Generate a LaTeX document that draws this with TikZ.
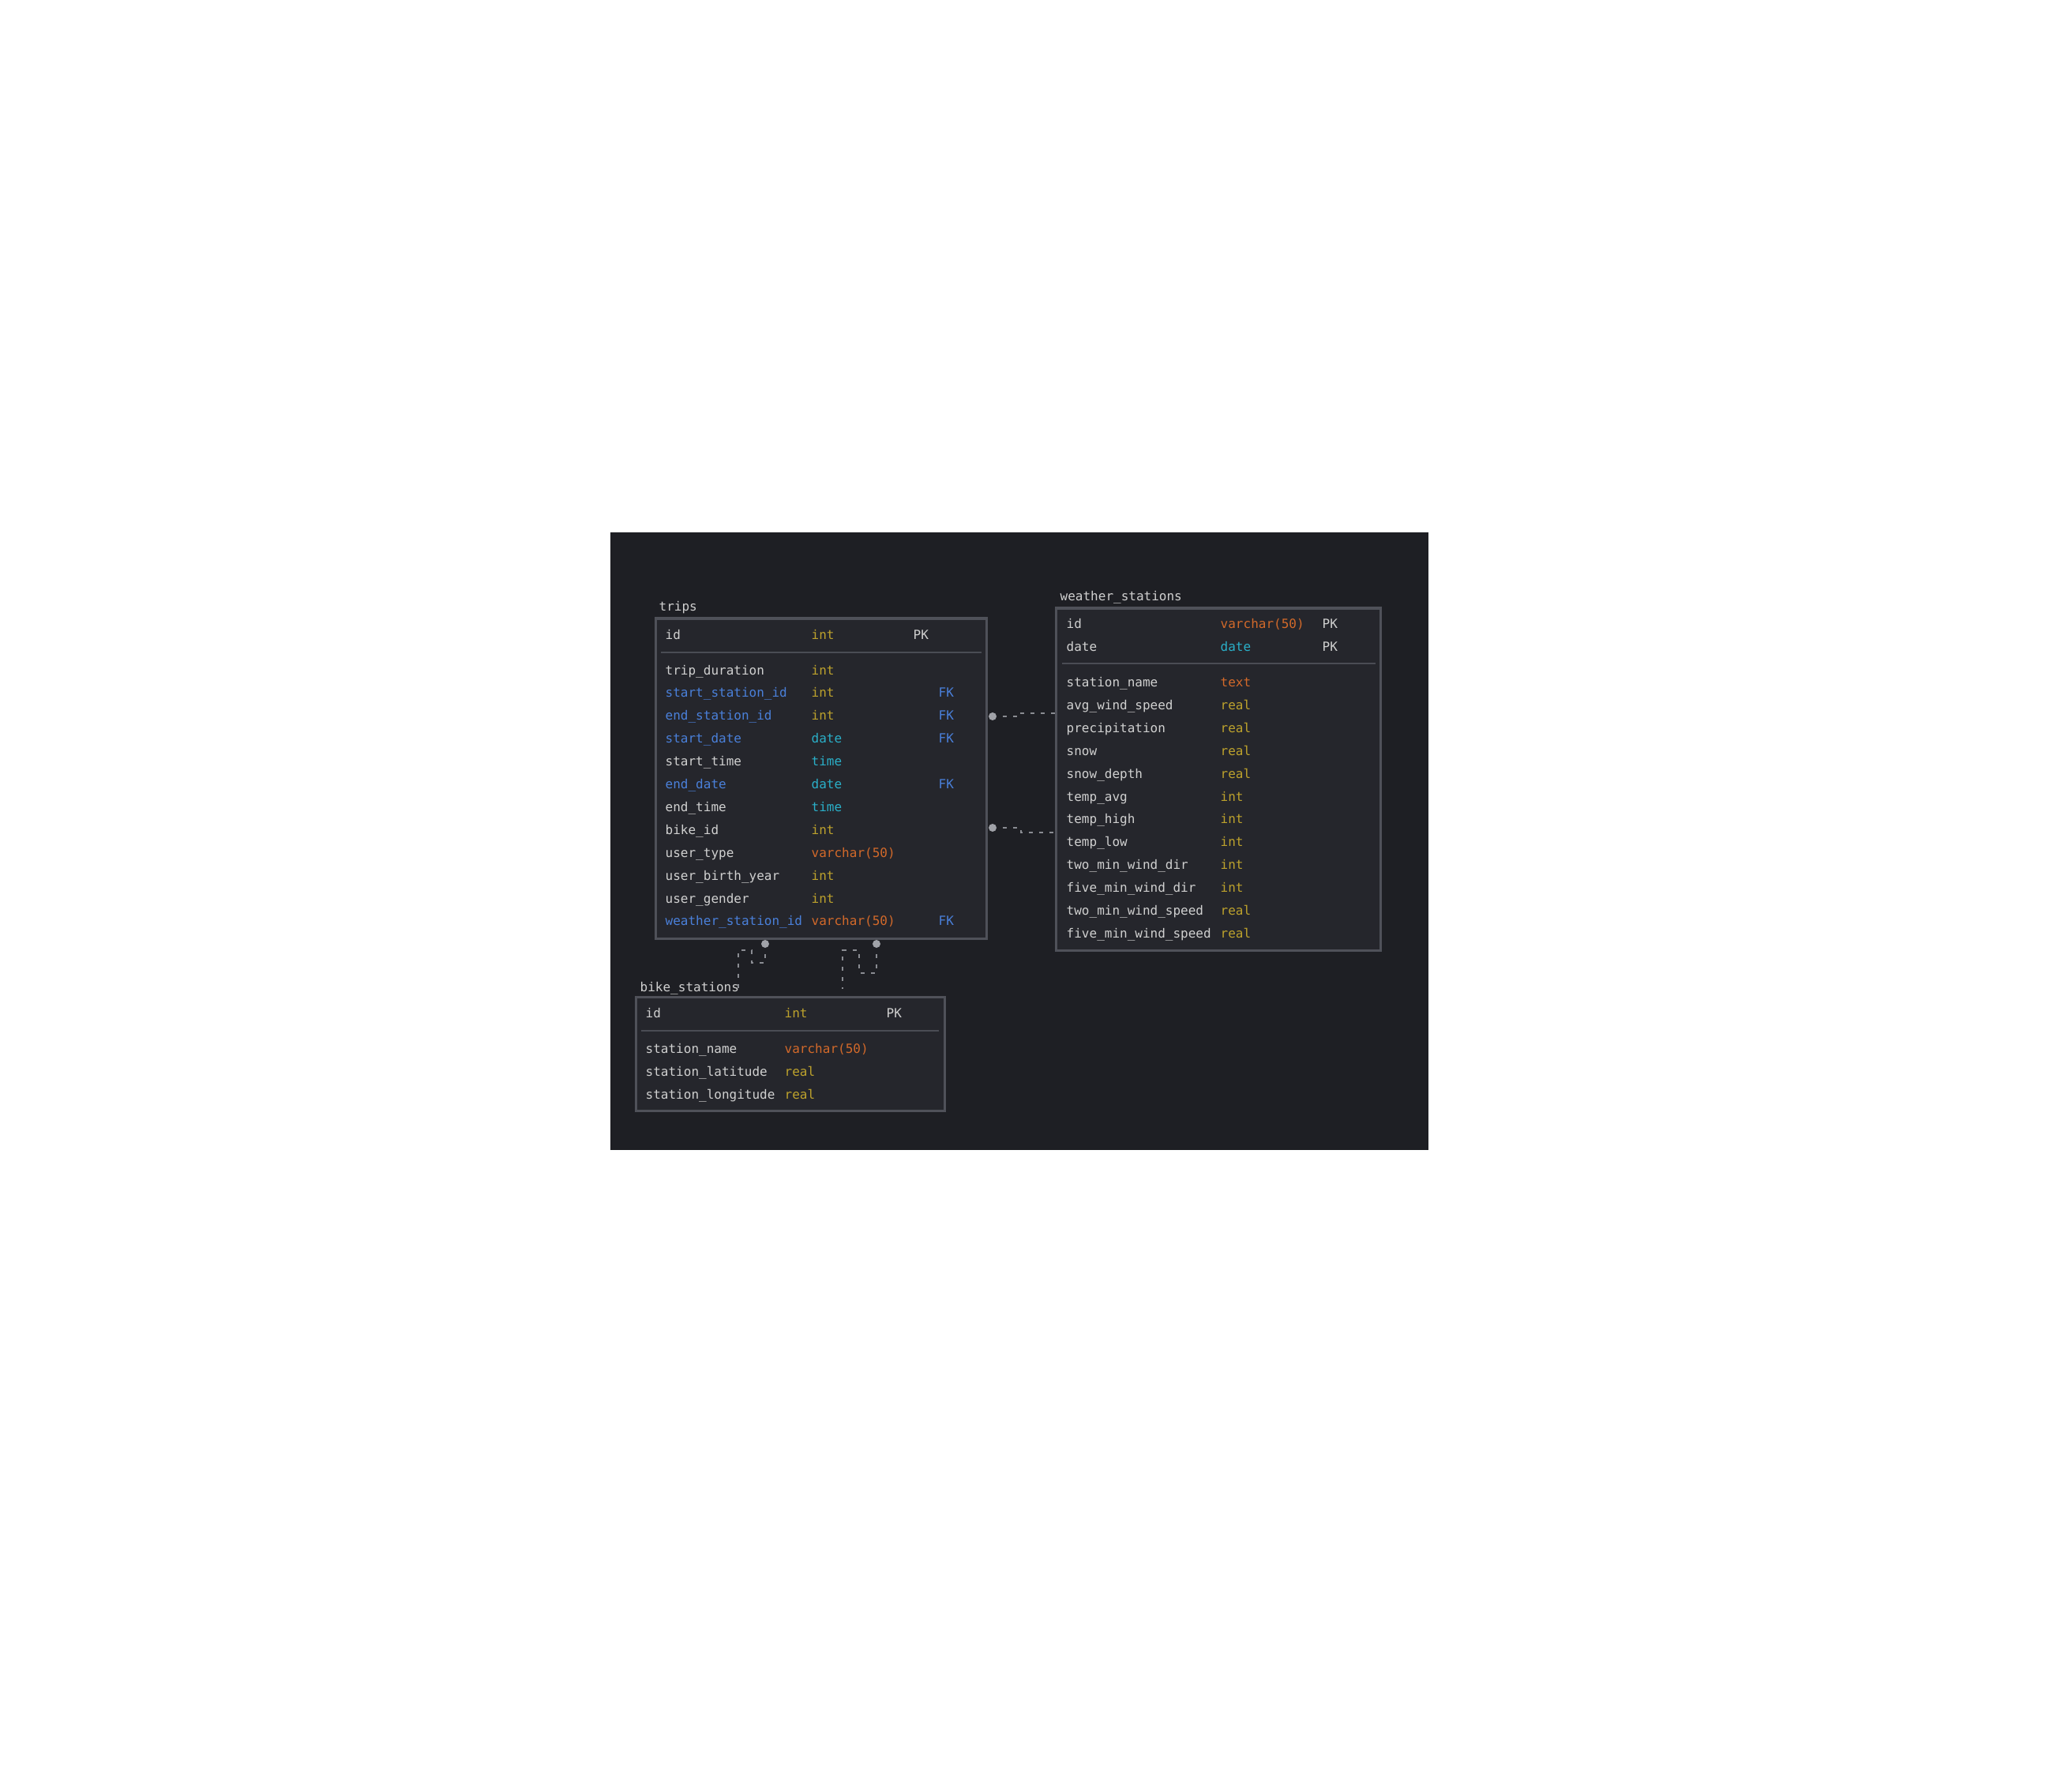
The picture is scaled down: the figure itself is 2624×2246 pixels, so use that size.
\documentclass[tikz,border=0pt]{standalone}
\usepackage{fontspec}
\setmonofont{DejaVu Sans Mono}
\definecolor{darkbg}{HTML}{1E1F24}
\definecolor{tblc}{HTML}{25262C}
\definecolor{bordc}{HTML}{4F5159}
\definecolor{sepc}{HTML}{4A4C54}
\definecolor{wt}{HTML}{D0D0D0}
\definecolor{yl}{HTML}{BDA22C}
\definecolor{org}{HTML}{D2692A}
\definecolor{cy}{HTML}{2AAFC8}
\definecolor{bl}{HTML}{4A80DA}
\definecolor{connc}{HTML}{8A8C92}
\definecolor{dotc}{HTML}{A0A2A8}
\begin{document}
\begin{tikzpicture}[x=0.01cm,y=-0.01cm,
  tablebox/.style={draw=bordc, fill=tblc, line width=0.03cm, anchor=north west, inner sep=0pt, outer sep=0pt},
  txt/.style={anchor=base west, inner sep=0pt, font=\ttfamily\fontsize{4.55}{5.5}\selectfont},
  sepline/.style={draw=sepc, line width=0.02cm},
  conn/.style={draw=connc, line width=0.016cm, dash pattern=on 0.05cm off 0.08cm, dash phase=0.05cm},
  dotnode/.style={circle, fill=dotc, inner sep=0pt, minimum size=0.1cm, outer sep=0pt}]
\def\nofk{-}
\useasboundingbox (0,0) rectangle (2624,2246);
\fill[white] (0,0) rectangle (2624,2246);
\fill[darkbg] (773,674) rectangle (1809,1456);

% ---------------- trips ----------------
\node[txt,text=wt] (tripslbl) at (834,774) {trips};
\node[tablebox, minimum width=4.19cm, minimum height=4.05cm] (trips) at (830,783) {};
\node[txt,text=wt] (th1) at (842,809) {id};
\node[txt,text=yl] (th2) at (1027,809) {int};
\node[txt,text=wt] (th3) at (1156,809) {PK};
\draw[sepline] (837,826) -- (1243,826);
\foreach \nm/\nc/\ty/\tc/\fk [count=\i] in {
  trip\_duration/wt/int/yl/-,
  start\_station\_id/bl/int/yl/FK,
  end\_station\_id/bl/int/yl/FK,
  start\_date/bl/date/cy/FK,
  start\_time/wt/time/cy/-,
  end\_date/bl/date/cy/FK,
  end\_time/wt/time/cy/-,
  bike\_id/wt/int/yl/-,
  user\_type/wt/varchar(50)/org/-,
  user\_birth\_year/wt/int/yl/-,
  user\_gender/wt/int/yl/-,
  weather\_station\_id/bl/varchar(50)/org/FK}
{
  \pgfmathsetmacro\yy{848+28.9*(\i-1)+6}
  \node[txt,text=\nc] (tn\i) at (842,\yy) {\nm};
  \node[txt,text=\tc] (tt\i) at (1027,\yy) {\ty};
  \ifx\fk\nofk\else
    \node[txt,text=bl] (tk\i) at (1188,\yy) {\fk};
  \fi
}

% ---------------- weather_stations ----------------
\node[txt,text=wt] (wslbl) at (1342,761) {weather\_stations};
\node[tablebox, minimum width=4.11cm, minimum height=4.33cm] (ws) at (1337,770) {};
\node[txt,text=wt] (wh1) at (1350,795) {id};
\node[txt,text=org] (wh2) at (1545,795) {varchar(50)};
\node[txt,text=wt] (wh3) at (1674,795) {PK};
\node[txt,text=wt] (wh4) at (1350,824) {date};
\node[txt,text=cy] (wh5) at (1545,824) {date};
\node[txt,text=wt] (wh6) at (1674,824) {PK};
\draw[sepline] (1345,840) -- (1742,840);
\foreach \nm/\ty/\tc [count=\i] in {
  station\_name/text/org,
  avg\_wind\_speed/real/yl,
  precipitation/real/yl,
  snow/real/yl,
  snow\_depth/real/yl,
  temp\_avg/int/yl,
  temp\_high/int/yl,
  temp\_low/int/yl,
  two\_min\_wind\_dir/int/yl,
  five\_min\_wind\_dir/int/yl,
  two\_min\_wind\_speed/real/yl,
  five\_min\_wind\_speed/real/yl}
{
  \pgfmathsetmacro\yy{863.5+28.9*(\i-1)+6}
  \node[txt,text=wt] (wn\i) at (1350,\yy) {\nm};
  \node[txt,text=\tc] (wt\i) at (1545,\yy) {\ty};
}

% ---------------- bike_stations ----------------
\node[txt,text=wt] (bslbl) at (810,1255) {bike\_stations};
\node[tablebox, minimum width=3.91cm, minimum height=1.44cm] (bs) at (805,1262) {};
\node[txt,text=wt] (bh1) at (817,1288) {id};
\node[txt,text=yl] (bh2) at (993,1288) {int};
\node[txt,text=wt] (bh3) at (1122,1288) {PK};
\draw[sepline] (812,1305) -- (1189,1305);
\foreach \nm/\ty/\tc/\yy [count=\i] in {
  station\_name/varchar(50)/org/1333,
  station\_latitude/real/yl/1362,
  station\_longitude/real/yl/1391}
{
  \node[txt,text=wt] (bn\i) at (817,\yy) {\nm};
  \node[txt,text=\tc] (bt\i) at (993,\yy) {\ty};
}

% ---------------- connectors ----------------
\node[dotnode] (d1) at (1257,907) {};
\node[dotnode] (d2) at (1257,1048) {};
\node[dotnode] (d3) at (969,1195) {};
\node[dotnode] (d4) at (1110,1195) {};
\coordinate (e1) at (1337,903);
\coordinate (e2) at (1337,1054);
\coordinate (e3) at (935,1252);
\coordinate (e4) at (1067,1252);
\draw[conn] (d1) -- (1293,907) -- (1293,903) -- (e1);
\draw[conn] (d2) -- (1293,1048) -- (1293,1054) -- (e2);
\draw[conn] (d3) -- (969,1219) -- (952,1219) -- (952,1203) -- (935,1203) -- (e3);
\draw[conn] (d4) -- (1110,1232) -- (1088,1232) -- (1088,1203) -- (1067,1203) -- (e4);
\end{tikzpicture}
\end{document}
